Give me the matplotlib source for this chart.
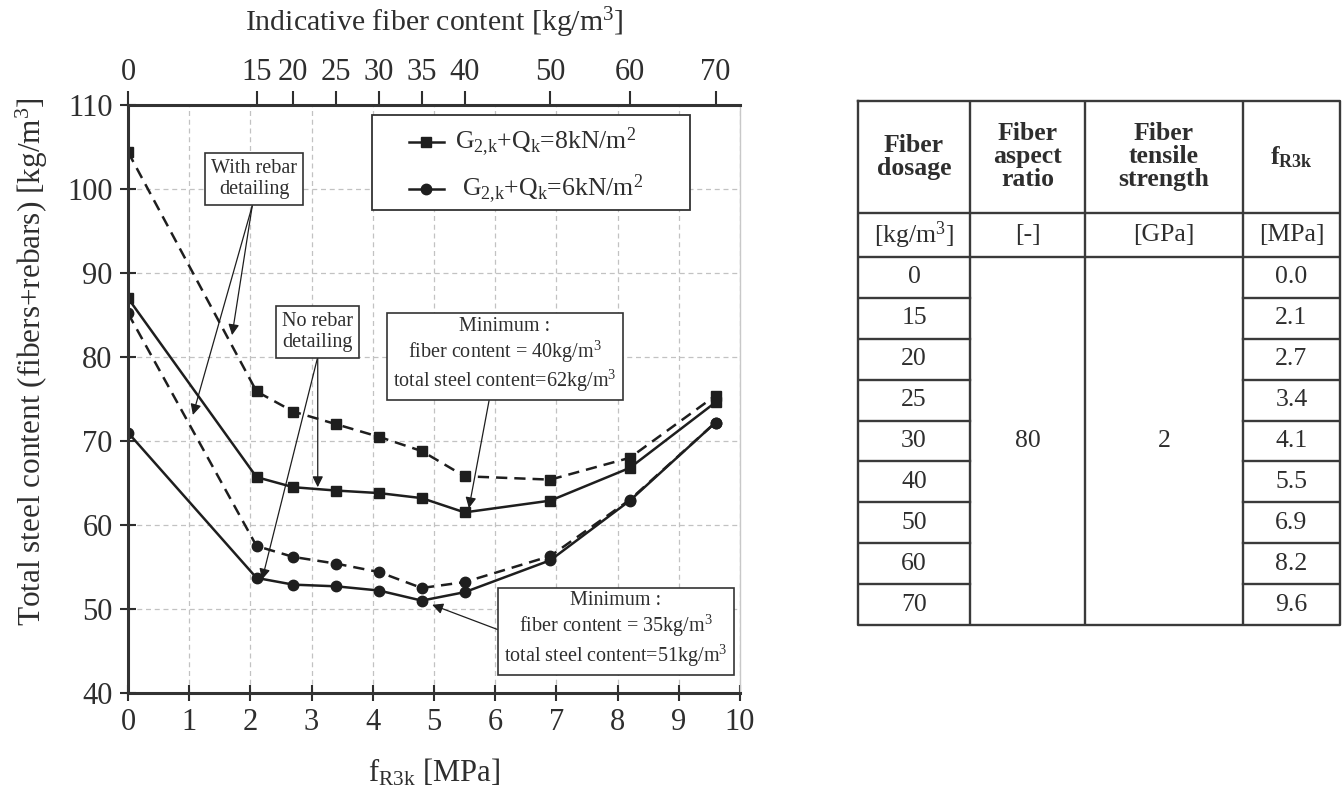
import matplotlib
matplotlib.use('Agg')
import matplotlib.pyplot as plt
from matplotlib.lines import Line2D
from matplotlib.patches import Rectangle

plt.rcParams['font.family'] = ['Liberation Serif', 'DejaVu Serif']
plt.rcParams['mathtext.fontset'] = 'custom'
plt.rcParams['mathtext.rm'] = 'Liberation Serif'
plt.rcParams['mathtext.it'] = 'Liberation Serif:italic'
plt.rcParams['mathtext.bf'] = 'Liberation Serif:bold'

# datos: resistencia residual fR3k para cada dosificacion de fibra
dosificacion = [0, 15, 20, 25, 30, 40, 50, 60, 70]
fr3k = [0.0, 2.1, 2.7, 3.4, 4.1, 5.5, 6.9, 8.2, 9.6]
esbeltez = 80
resistencia_fibra = 2

# eje superior (contenido indicativo de fibra)
top_pos = [0.0, 2.1, 2.7, 3.4, 4.1, 4.8, 5.5, 6.9, 8.2, 9.6]
top_lab = ['0', '15', '20', '25', '30', '35', '40', '50', '60', '70']

# acero total por serie (x = fR3k)
x_curvas = [0.0, 2.1, 2.7, 3.4, 4.1, 4.8, 5.5, 6.9, 8.2, 9.6]
q8_con_armadura = [104.4, 75.9, 73.5, 72.0, 70.5, 68.8, 65.8, 65.4, 68.0, 75.4]
q8_sin_armadura = [87.0, 65.7, 64.5, 64.1, 63.8, 63.2, 61.5, 62.9, 66.8, 74.6]
q6_con_armadura = [85.2, 57.5, 56.2, 55.4, 54.4, 52.5, 53.2, 56.3, 63.0, 72.2]
q6_sin_armadura = [71.0, 53.7, 52.9, 52.7, 52.2, 51.0, 52.0, 55.8, 62.9, 72.2]

negro = '#1e1e1e'
gris_texto = '#2e2e2e'
guiones = (0, (4.5, 2.8))

fig = plt.figure(figsize=(13.42, 7.94), dpi=100)
ax = fig.add_axes([0.0954, 0.1272, 0.456, 0.7406])

ax.plot(x_curvas, q8_con_armadura, color=negro, lw=1.8, ls=guiones, marker='s', ms=7.5)
ax.plot(x_curvas, q8_sin_armadura, color=negro, lw=1.8, ls='-', marker='s', ms=7.5)
ax.plot(x_curvas, q6_con_armadura, color=negro, lw=1.8, ls=guiones, marker='o', ms=7.5)
ax.plot(x_curvas, q6_sin_armadura, color=negro, lw=1.8, ls='-', marker='o', ms=7.5)

ax.set_xlim(0, 10)
ax.set_ylim(40, 110)
ax.set_xticks(range(0, 11))
ax.set_yticks(range(40, 111, 10))
ax.grid(True, color='#c2c2c2', ls=(0, (4, 3)), lw=0.9)
ax.set_axisbelow(True)
ax.tick_params(labelsize=22, colors=gris_texto, direction='inout', length=12, width=1.5,
               pad=5)
for lado in ['left', 'bottom']:
    ax.spines[lado].set_linewidth(2.2)
    ax.spines[lado].set_color('#333333')
ax.spines['right'].set_color('#c8c8c8')
ax.spines['right'].set_linewidth(1.0)
ax.spines['top'].set_visible(False)

ax.set_xlabel(r'f$_{\mathrm{R3k}}$ [MPa]', fontsize=22, color=gris_texto, labelpad=14)
ax.set_ylabel('Total steel content (fibers+rebars) [kg/m$^3$]', fontsize=22.5,
              color=gris_texto)
ax.yaxis.set_label_coords(-0.128, 0.563)

# eje superior
ax2 = ax.twiny()
ax2.set_xlim(ax.get_xlim())
ax2.set_xticks(top_pos)
ax2.set_xticklabels(top_lab)
ax2.tick_params(labelsize=22, colors=gris_texto, direction='out', length=10, width=1.5, pad=3)
ax2.spines['top'].set_linewidth(2.2)
ax2.spines['top'].set_color('#333333')
for lado in ['left', 'bottom', 'right']:
    ax2.spines[lado].set_visible(False)
ax2.set_xlabel('Indicative fiber content [kg/m$^3$]', fontsize=21.5, color=gris_texto,
               labelpad=19)

# leyenda dibujada a mano (caja rectangular ancha)
ax.add_patch(Rectangle((0.399, 0.821), 0.520, 0.162, transform=ax.transAxes, fc='white',
                       ec='#333333', lw=1.3, zorder=6))
entradas = [('s', r'G$_{2{,}\mathrm{k}}$+Q$_\mathrm{k}$=8kN/m$^2$', 0.937, 0.534),
            ('o', r'G$_{2{,}\mathrm{k}}$+Q$_\mathrm{k}$=6kN/m$^2$', 0.857, 0.545)]
for mk, etiqueta, yy, xt in entradas:
    ax.add_line(Line2D([0.459, 0.516], [yy, yy], color=negro, lw=1.8, transform=ax.transAxes,
                       zorder=7))
    ax.add_line(Line2D([0.4875], [yy], color=negro, marker=mk, ms=7.5, transform=ax.transAxes,
                       zorder=7))
    ax.text(xt, yy, etiqueta, transform=ax.transAxes, fontsize=18.5, va='center', ha='left',
            color=gris_texto, zorder=7)

caja = dict(boxstyle='square,pad=0.3', fc='white', ec='#333333', lw=1.2)
flecha = dict(arrowstyle='-|>', color=negro, lw=0.9, mutation_scale=16, shrinkA=0, shrinkB=0)


def nota(texto, centro, origen, destinos):
    for d in destinos:
        ax.annotate('', xy=d, xytext=origen, arrowprops=flecha, zorder=5)
    ax.text(centro[0], centro[1], texto, fontsize=14.5, ha='center', va='center',
            color=gris_texto, bbox=caja, zorder=6, linespacing=1.15)


nota('With rebar\ndetailing', (2.06, 101.2), (2.03, 98.0), [(1.70, 82.6), (1.06, 73.1)])
nota('No rebar\ndetailing', (3.10, 83.0), (3.10, 80.0), [(3.10, 64.5), (2.19, 53.5)])
nota('Minimum :\nfiber content = 40kg/m$^3$\ntotal steel content=62kg/m$^3$',
     (6.16, 80.2), (5.92, 75.6), [(5.57, 62.0)])
nota('Minimum :\nfiber content = 35kg/m$^3$\ntotal steel content=51kg/m$^3$',
     (7.97, 47.5), (6.06, 47.5), [(4.97, 50.5)])

# tabla de propiedades de la fibra
anchos = [112, 115, 158, 97]
alto_cab = 112
alto_uni = 44
alto_fila = 40.9
total_w = sum(anchos)
total_h = alto_cab + alto_uni + alto_fila * len(dosificacion)

tx = fig.add_axes([858 / 1342, 1 - 625 / 794, total_w / 1342, total_h / 794])
tx.set_xlim(0, total_w)
tx.set_ylim(total_h, 0)
tx.axis('off')

bordes = [0]
for w in anchos:
    bordes.append(bordes[-1] + w)
lw_t = 1.7
col_t = '#3a3a3a'
fs_t = 18.5

tx.plot([0, total_w, total_w, 0, 0], [0, 0, total_h, total_h, 0], color=col_t, lw=lw_t,
        clip_on=False)
for b in bordes[1:-1]:
    tx.plot([b, b], [0, total_h], color=col_t, lw=lw_t)
for yy in [alto_cab, alto_cab + alto_uni]:
    tx.plot([0, total_w], [yy, yy], color=col_t, lw=lw_t)
for i in range(1, len(dosificacion)):
    yy = alto_cab + alto_uni + i * alto_fila
    tx.plot([bordes[0], bordes[1]], [yy, yy], color=col_t, lw=lw_t)
    tx.plot([bordes[3], bordes[4]], [yy, yy], color=col_t, lw=lw_t)

centros = [(bordes[i] + bordes[i + 1]) / 2 for i in range(4)]
cabeceras = ['Fiber\ndosage', 'Fiber\naspect\nratio', 'Fiber\ntensile\nstrength',
             r'f$\mathbf{_{R3k}}$']
for c, t in zip(centros, cabeceras):
    tx.text(c, alto_cab / 2, t, ha='center', va='center', fontsize=fs_t, fontweight='bold',
            color=gris_texto, linespacing=1.0)
unidades = ['[kg/m$^3$]', '[-]', '[GPa]', '[MPa]']
for c, t in zip(centros, unidades):
    tx.text(c, alto_cab + alto_uni / 2, t, ha='center', va='center', fontsize=fs_t,
            color=gris_texto)
y0 = alto_cab + alto_uni
for i, (d, f) in enumerate(zip(dosificacion, fr3k)):
    yc = y0 + (i + 0.5) * alto_fila
    tx.text(centros[0], yc, str(d), ha='center', va='center', fontsize=fs_t, color=gris_texto)
    tx.text(centros[3], yc, f'{f:.1f}', ha='center', va='center', fontsize=fs_t,
            color=gris_texto)
ymid = y0 + alto_fila * len(dosificacion) / 2
tx.text(centros[1], ymid, str(esbeltez), ha='center', va='center', fontsize=fs_t,
        color=gris_texto)
tx.text(centros[2], ymid, str(resistencia_fibra), ha='center', va='center', fontsize=fs_t,
        color=gris_texto)

fig.savefig('out.png', dpi=100)
